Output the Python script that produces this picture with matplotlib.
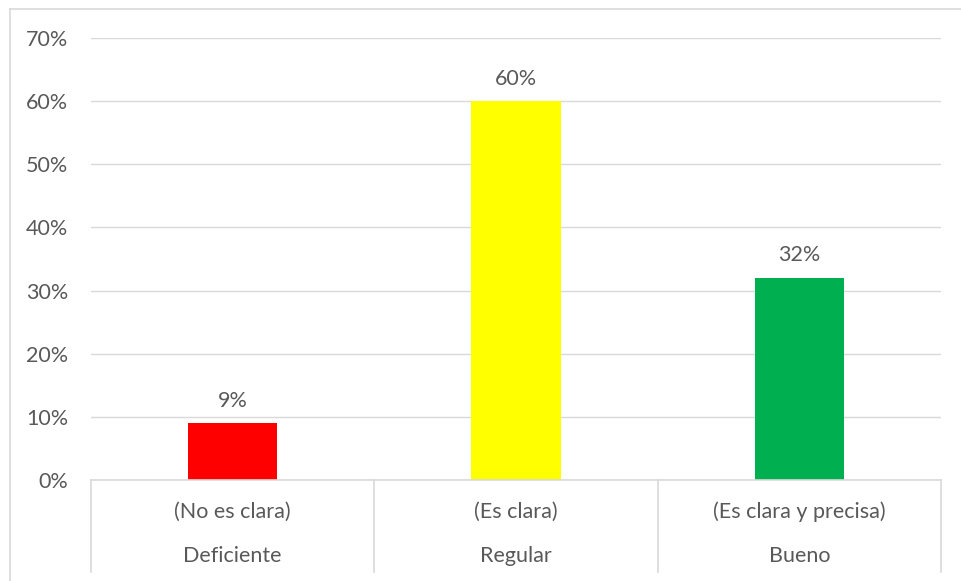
import matplotlib
matplotlib.use("Agg")
import matplotlib.pyplot as plt
import matplotlib.transforms as mtransforms
from matplotlib.lines import Line2D
from matplotlib.ticker import FuncFormatter

levels = ["Deficiente", "Regular", "Bueno"]
descriptions = ["(No es clara)", "(Es clara)", "(Es clara y precisa)"]
shares = [0.09, 0.60, 0.32]
bar_colors = ["#FF0000", "#FFFF00", "#00B050"]
y_ticks = [0.0, 0.1, 0.2, 0.3, 0.4, 0.5, 0.6, 0.7]

TEXT = "#595959"
GRID = "#D9D9D9"
FS = 15.5
plt.rcParams["font.family"] = ["Lato", "DejaVu Sans"]

W, H = 962, 581
fig = plt.figure(figsize=(W / 100, H / 100), dpi=100)
ax = fig.add_axes([91 / W, 1 - 480 / H, 850 / W, 442 / H])

x = list(range(len(levels)))
ax.bar(x, shares, width=0.315, color=bar_colors, zorder=3)
for xi, v in zip(x, shares):
    ax.annotate(f"{v:.0%}", (xi, v), xytext=(0, 9), textcoords="offset points",
                ha="center", va="bottom", fontsize=FS, color=TEXT)

ax.set_xlim(-0.5, len(levels) - 0.5)
ax.set_ylim(0, 0.7)
ax.set_yticks(y_ticks)
ax.yaxis.set_major_formatter(FuncFormatter(lambda v, _: f"{v:.0%}"))
ax.tick_params(axis="y", length=0, pad=16.5, labelsize=FS, labelcolor=TEXT)
ax.set_xticks([])
ax.grid(axis="y", color=GRID, linewidth=1, zorder=0)
for side in ["top", "right", "left", "bottom"]:
    ax.spines[side].set_visible(False)

# two-level category axis with dividers
trans = mtransforms.blended_transform_factory(ax.transData, ax.transAxes)
ax.plot([-0.5, len(levels) - 0.5], [0, 0], color=GRID, lw=1.2, transform=trans,
        clip_on=False, zorder=4)
for b in [i - 0.5 for i in range(len(levels) + 1)]:
    ax.plot([b, b], [0, -92 / 442], color=GRID, lw=1.2, transform=trans, clip_on=False)
for xi, desc, lvl in zip(x, descriptions, levels):
    ax.text(xi, -32 / 442, desc, transform=trans, ha="center", va="center",
            fontsize=FS, color=TEXT)
    ax.text(xi, -76 / 442, lvl, transform=trans, ha="center", va="center",
            fontsize=FS, color=TEXT)

# chart frame
fig.add_artist(Line2D([10 / W, 10 / W], [0, 1 - 9 / H], color=GRID, lw=1.2))
fig.add_artist(Line2D([10 / W, 1], [1 - 9 / H, 1 - 9 / H], color=GRID, lw=1.2))

fig.savefig("out.png", dpi=100)
